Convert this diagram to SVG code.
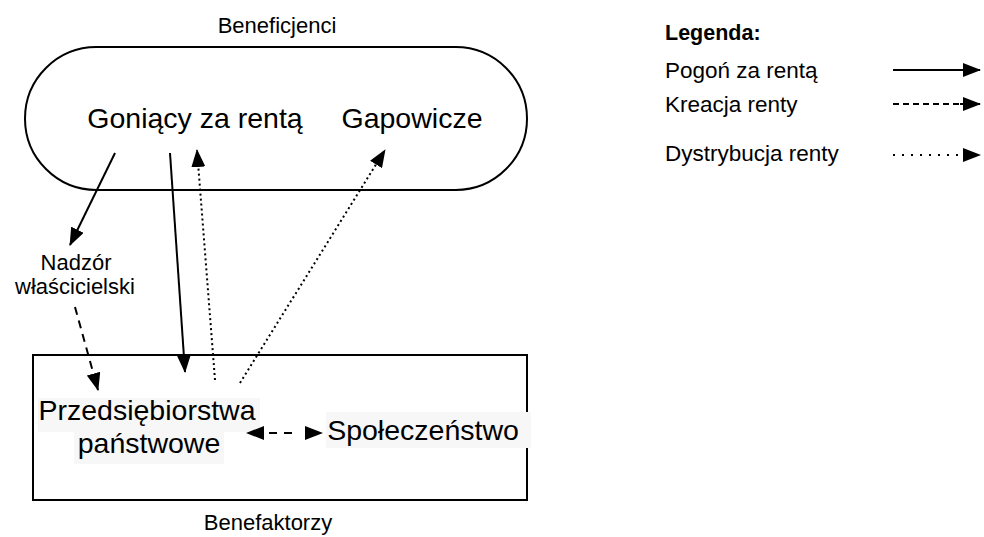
<svg xmlns="http://www.w3.org/2000/svg" width="984" height="537" viewBox="0 0 984 537">
<style>
text{font-family:"Liberation Sans",Arial,Helvetica,sans-serif;fill:#000}
.big{font-size:28.5px}
.mid{font-size:22px}
.leg{font-size:22.5px}
.solid{stroke:#000;stroke-width:2;fill:none}
.dash{stroke:#000;stroke-width:2;fill:none;stroke-dasharray:8 6}
.dot{stroke:#000;stroke-width:2;fill:none;stroke-dasharray:2 3}
.shape{stroke:#000;stroke-width:2;fill:#fff}
.lbl{fill:#f7f7f7}
</style>
<defs>
<marker id="ah" markerUnits="userSpaceOnUse" markerWidth="18" markerHeight="14" viewBox="0 0 18 14" refX="17" refY="7" orient="auto-start-reverse">
<path d="M0,0 L18,7 L0,14 Z" fill="#000"/>
</marker>
</defs>
<rect width="984" height="537" fill="#fff"/>
<g id="beneficjenci">
<text class="mid" x="277" y="33" text-anchor="middle">Beneficjenci</text>
<rect class="shape" x="25" y="47" width="502" height="143" rx="71.5" ry="71.5"/>
<text class="big" x="195" y="128" text-anchor="middle">Goniący za rentą</text>
<text class="big" x="412" y="128" text-anchor="middle">Gapowicze</text>
</g>
<g id="benefaktorzy">
<rect class="shape" x="33" y="355" width="494" height="145"/>
<rect class="lbl" x="38" y="398" width="222" height="34"/>
<rect class="lbl" x="74" y="432" width="150" height="32"/>
<rect class="lbl" x="326" y="412" width="205" height="36"/>
<text class="big" x="147" y="420" text-anchor="middle">Przedsiębiorstwa</text>
<text class="big" x="149" y="453" text-anchor="middle">państwowe</text>
<text class="big" x="423" y="440" text-anchor="middle">Społeczeństwo</text>
<text class="mid" x="268" y="530" text-anchor="middle">Benefaktorzy</text>
</g>
<g id="nadzor">
<text class="mid" x="76" y="270" text-anchor="middle">Nadzór</text>
<text class="mid" x="75" y="294" text-anchor="middle">właścicielski</text>
</g>
<g id="connectors">
<line class="solid" x1="115" y1="153" x2="70" y2="245" marker-end="url(#ah)"/>
<line class="dash" x1="75" y1="307" x2="98" y2="390" marker-end="url(#ah)"/>
<line class="solid" x1="170" y1="153" x2="185" y2="372" marker-end="url(#ah)"/>
<line class="dot" x1="215" y1="380" x2="197" y2="150" marker-end="url(#ah)"/>
<line class="dot" x1="240" y1="383" x2="385" y2="150" marker-end="url(#ah)"/>
<line class="dash" x1="247" y1="433" x2="322" y2="433" style="stroke-dasharray:0 22 8 7 8 30" marker-start="url(#ah)" marker-end="url(#ah)"/>
</g>
<g id="legenda">
<text x="665" y="40" style="font-size:21.5px;font-weight:bold">Legenda:</text>
<text class="leg" x="665" y="78">Pogoń za rentą</text>
<text class="leg" x="665" y="112">Kreacja renty</text>
<text class="leg" x="665" y="161">Dystrybucja renty</text>
<line class="solid" x1="893" y1="70" x2="980" y2="70" marker-end="url(#ah)"/>
<line class="dash" x1="893" y1="104" x2="965" y2="104" style="stroke-dasharray:6 4"/>
<line class="solid" x1="960" y1="104" x2="980" y2="104" marker-end="url(#ah)"/>
<line class="dot" x1="893" y1="155" x2="962" y2="155" style="stroke-dasharray:2 7"/>
<line class="solid" x1="962" y1="155" x2="980" y2="155" stroke="none" marker-end="url(#ah)" style="stroke:none"/>
</g>
</svg>
